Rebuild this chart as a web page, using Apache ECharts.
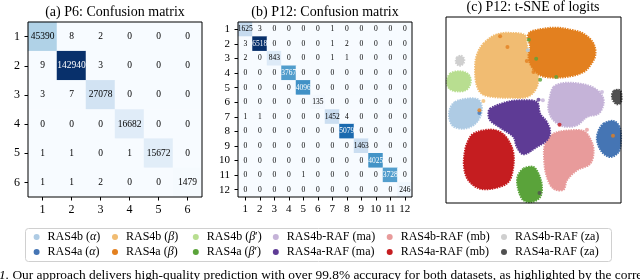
<!DOCTYPE html>
<html><head><meta charset="utf-8">
<script src="https://cdn.jsdelivr.net/npm/echarts@6/dist/echarts.min.js"></script>
<style>html,body{margin:0;padding:0;background:#fff}#c{width:640px;height:280px}</style>
</head><body><div id="c"></div>
<script>
// ---------- data ----------
const ticksP6 = ['1','2','3','4','5','6'];
const ticksP12 = ['1','2','3','4','5','6','7','8','9','10','11','12'];
const cmP6 = [
  [45390, 8, 2, 0, 0, 0],
  [9, 142940, 3, 0, 0, 0],
  [3, 7, 27078, 0, 0, 0],
  [0, 0, 0, 16682, 0, 0],
  [1, 1, 0, 1, 15672, 0],
  [1, 1, 2, 0, 0, 1479]
];
const cmP12 = [
  [1625, 3, 0, 0, 0, 0, 1, 0, 0, 0, 0, 0],
  [3, 6518, 0, 0, 0, 0, 1, 2, 0, 0, 0, 0],
  [2, 0, 843, 0, 0, 0, 1, 1, 0, 0, 0, 0],
  [0, 0, 0, 3767, 0, 0, 0, 0, 0, 0, 0, 0],
  [0, 0, 0, 0, 4096, 0, 0, 0, 0, 0, 0, 0],
  [0, 0, 0, 0, 0, 135, 0, 0, 0, 0, 0, 0],
  [1, 1, 0, 0, 0, 0, 1452, 4, 0, 0, 0, 0],
  [0, 0, 0, 0, 0, 0, 0, 5079, 0, 0, 0, 0],
  [0, 0, 0, 0, 0, 0, 0, 0, 1463, 0, 0, 0],
  [0, 0, 0, 0, 0, 0, 0, 0, 0, 4025, 0, 0],
  [0, 0, 0, 0, 1, 0, 0, 0, 0, 0, 3728, 0],
  [0, 0, 0, 0, 0, 0, 0, 0, 0, 0, 0, 246]
];
const classNames = ['RAS4b (α)', 'RAS4b (β)', "RAS4b (β')", 'RAS4b-RAF (ma)', 'RAS4b-RAF (mb)', 'RAS4b-RAF (za)',
                    'RAS4a (α)', 'RAS4a (β)', "RAS4a (β')", 'RAS4a-RAF (ma)', 'RAS4a-RAF (mb)', 'RAS4a-RAF (za)'];
const classColors = ['#aecbe4', '#f1bc72', '#b8de90', '#c5b3d8', '#e89b9b', '#cfcfcf',
                     '#4575b4', '#e3801f', '#5aa33a', '#5e3b95', '#c51d20', '#505050'];
// t-SNE cluster outlines (arbitrary t-SNE units, y downward)
const tsneRAS4bAlpha = [[75,305],[110,295],[145,298],[155,320],[150,350],[130,375],[100,385],[70,378],[58,355],[60,325]];
const tsneRAS4bBeta = [[160,130],[200,102],[250,98],[285,105],[290,130],[300,170],[315,200],[325,235],[315,270],[290,290],[240,292],[190,290],[155,280],[140,255],[135,210],[140,165]];
const tsneRAS4bBetaP = [[60,220],[90,213],[115,222],[122,245],[110,268],[80,273],[58,265],[50,245]];
const tsneRAS4bRafMa = [[370,260],[400,248],[450,250],[490,262],[515,285],[520,310],[505,340],[470,350],[440,375],[400,378],[370,360],[355,330],[358,295]];
const tsneRAS4bRafMb = [[370,400],[420,390],[460,392],[480,415],[490,450],[480,490],[440,510],[410,540],[400,568],[370,565],[350,530],[342,480],[345,430]];
const tsneRAS4bRafZa = [[80,172],[92,166],[102,175],[100,190],[88,196],[78,188]];
const tsneRAS4aAlpha = [[520,370],[550,362],[568,380],[572,420],[565,455],[540,470],[515,455],[500,420],[505,390]];
const tsneRAS4aBeta = [[300,95],[340,85],[380,82],[420,88],[460,100],[490,130],[495,165],[480,195],[460,215],[420,228],[370,232],[330,225],[305,200],[295,170],[300,140],[293,110]];
const tsneRAS4aBetaP = [[280,505],[310,500],[325,520],[335,555],[330,590],[305,605],[280,600],[265,570],[262,530]];
const tsneRAS4aRafMa = [[180,325],[230,305],[275,300],[320,305],[330,340],[350,365],[360,395],[350,420],[320,440],[280,462],[260,440],[250,410],[215,385],[180,360],[175,340]];
const tsneRAS4aRafMb = [[130,400],[175,388],[210,395],[235,420],[250,460],[248,510],[235,545],[200,562],[150,565],[115,540],[102,500],[105,450],[115,420]];
const tsneRAS4aRafZa = [[550,272],[565,268],[572,275],[572,305],[560,312],[548,300],[545,285]];
const tsneClusters = [tsneRAS4bAlpha, tsneRAS4bBeta, tsneRAS4bBetaP, tsneRAS4bRafMa, tsneRAS4bRafMb, tsneRAS4bRafZa,
                      tsneRAS4aAlpha, tsneRAS4aBeta, tsneRAS4aBetaP, tsneRAS4aRafMa, tsneRAS4aRafMb, tsneRAS4aRafZa];
// stray points
const strayPoints = [
  [[293,150]], [[160,302]], [], [[338,300],[515,275]], [[470,388]], [],
  [[148,338]], [[210,108],[232,140],[290,182],[310,215],[548,406],[148,330]], [[318,175],[330,238],[378,230],[296,118]], [[325,298]], [[388,373]], [[328,578]]
];
const captionText = 'Our approach delivers high-quality prediction with over 99.8% accuracy for both datasets, as highlighted by the corres';

// ---------- chart ----------
const FONT = '"Liberation Serif", "DejaVu Serif", serif';
const blues = ['#f7fbff','#deebf7','#c6dbef','#9ecae1','#6baed6','#4292c6','#2171b5','#08519c','#08306b'];
function cellData(m) {
  const mx = Math.max(...m.flat());
  const out = [];
  m.forEach((row, r) => row.forEach((v, c) => {
    out.push({ value: [c, r, v], label: { color: v > mx / 2 ? '#fff' : '#000' } });
  }));
  return { data: out, max: mx };
}
const d6 = cellData(cmP6), d12 = cellData(cmP12);

function catAxis(gridIndex, data, isX, fs, inverse) {
  return {
    type: 'category', gridIndex, data, inverse: !!inverse,
    axisLine: { show: false },
    axisTick: { show: true, alignWithLabel: true, length: 3.5, lineStyle: { color: '#000', width: 1 } },
    axisLabel: { color: '#000', fontFamily: FONT, fontSize: fs, margin: isX ? 7 : 8 },
    splitLine: { show: false }, z: 10
  };
}

const series = [
  { type: 'heatmap', xAxisIndex: 0, yAxisIndex: 0, data: d6.data,
    label: { show: true, fontFamily: FONT, fontSize: 9.5, formatter: p => p.value[2] },
    emphasis: { disabled: true } },
  { type: 'heatmap', xAxisIndex: 1, yAxisIndex: 1, data: d12.data,
    label: { show: true, fontFamily: FONT, fontSize: 7.5, formatter: p => p.value[2] },
    emphasis: { disabled: true } }
];
tsneClusters.forEach((pts, i) => {
  const col = classColors[i];
  series.push({
    type: 'custom', name: classNames[i], xAxisIndex: 2, yAxisIndex: 2,
    itemStyle: { color: col }, data: pts, encode: { x: 0, y: 1 },
    renderItem: (params, api) => {
      if (params.dataIndex !== 0) return null;
      const points = pts.map(p => api.coord(p));
      return { type: 'polygon', shape: { points, smooth: 0.35 }, style: { fill: col, stroke: col, lineWidth: 2, lineDash: [1.5, 1] } };
    }
  });
});
strayPoints.forEach((pts, i) => {
  if (!pts.length) return;
  series.push({ type: 'scatter', name: classNames[i], xAxisIndex: 2, yAxisIndex: 2, data: pts,
    symbolSize: 4, itemStyle: { color: classColors[i] }, z: 5 });
});

const legendCenters = [39.6, 118, 198.8, 278.8, 392.7, 507];
const legends = legendCenters.map((cx, k) => ({
  orient: 'vertical', left: cx - 6, top: 229.5, padding: 0, itemGap: 0,
  itemWidth: 12, itemHeight: 6, icon: 'circle', selectedMode: false,
  data: [classNames[k], classNames[k + 6]],
  formatter: n => n.replace(/\((α|β)('?)\)/, (s, g, pr) => '({g|' + g + '}' + (pr ? '′' : '') + ')'),
  textStyle: { fontFamily: FONT, fontSize: 12, color: '#000', lineHeight: 15,
    rich: { g: { fontFamily: FONT, fontSize: 12, fontStyle: 'italic', color: '#000', lineHeight: 15 } } }
}));

const option = {
  animation: false,
  backgroundColor: '#fff',
  title: [
    { text: '(a) P6: Confusion matrix', left: 115, top: 5, textAlign: 'center', padding: 0,
      textStyle: { fontFamily: FONT, fontSize: 14, fontWeight: 'normal', color: '#000' } },
    { text: '(b) P12: Confusion matrix', left: 325, top: 5, textAlign: 'center', padding: 0,
      textStyle: { fontFamily: FONT, fontSize: 14, fontWeight: 'normal', color: '#000' } },
    { text: '(c) P12: t-SNE of logits', left: 533, top: 0, textAlign: 'center', padding: 0,
      textStyle: { fontFamily: FONT, fontSize: 14, fontWeight: 'normal', color: '#000' } }
  ],
  grid: [
    { left: 28, top: 22, width: 174, height: 175, show: true, borderColor: '#000', borderWidth: 1, backgroundColor: 'transparent', z: 10 },
    { left: 238, top: 22, width: 174, height: 175, show: true, borderColor: '#000', borderWidth: 1, backgroundColor: 'transparent', z: 10 },
    { left: 446, top: 17, width: 175, height: 186, show: true, borderColor: '#000', borderWidth: 1, backgroundColor: 'transparent', z: 10 }
  ],
  xAxis: [
    catAxis(0, ticksP6, true, 12),
    catAxis(1, ticksP12, true, 11),
    { type: 'value', gridIndex: 2, min: 48, max: 572, show: false }
  ],
  yAxis: [
    catAxis(0, ticksP6, false, 12, true),
    catAxis(1, ticksP12, false, 11, true),
    { type: 'value', gridIndex: 2, min: 50, max: 608, inverse: true, show: false }
  ],
  visualMap: [
    { type: 'continuous', seriesIndex: 0, dimension: 2, min: 0, max: d6.max, show: false, inRange: { color: blues } },
    { type: 'continuous', seriesIndex: 1, dimension: 2, min: 0, max: d12.max, show: false, inRange: { color: blues } }
  ],
  legend: legends,
  graphic: [
    { type: 'rect', left: 25, top: 228, z: -1, shape: { width: 586, height: 33, r: 3 },
      style: { fill: '#fff', stroke: '#d0d0d0', lineWidth: 1 } },
    { type: 'text', left: -1, top: 269, style: { text: '{i|1.} ' + captionText, fill: '#000',
      font: '13.4px ' + FONT, rich: { i: { fontStyle: 'italic', fontFamily: FONT, fontSize: 13.4 } } } }
  ],
  series
};
const chart = echarts.init(document.getElementById('c'), null, { renderer: 'canvas' });
chart.setOption(option);
</script></body></html>
